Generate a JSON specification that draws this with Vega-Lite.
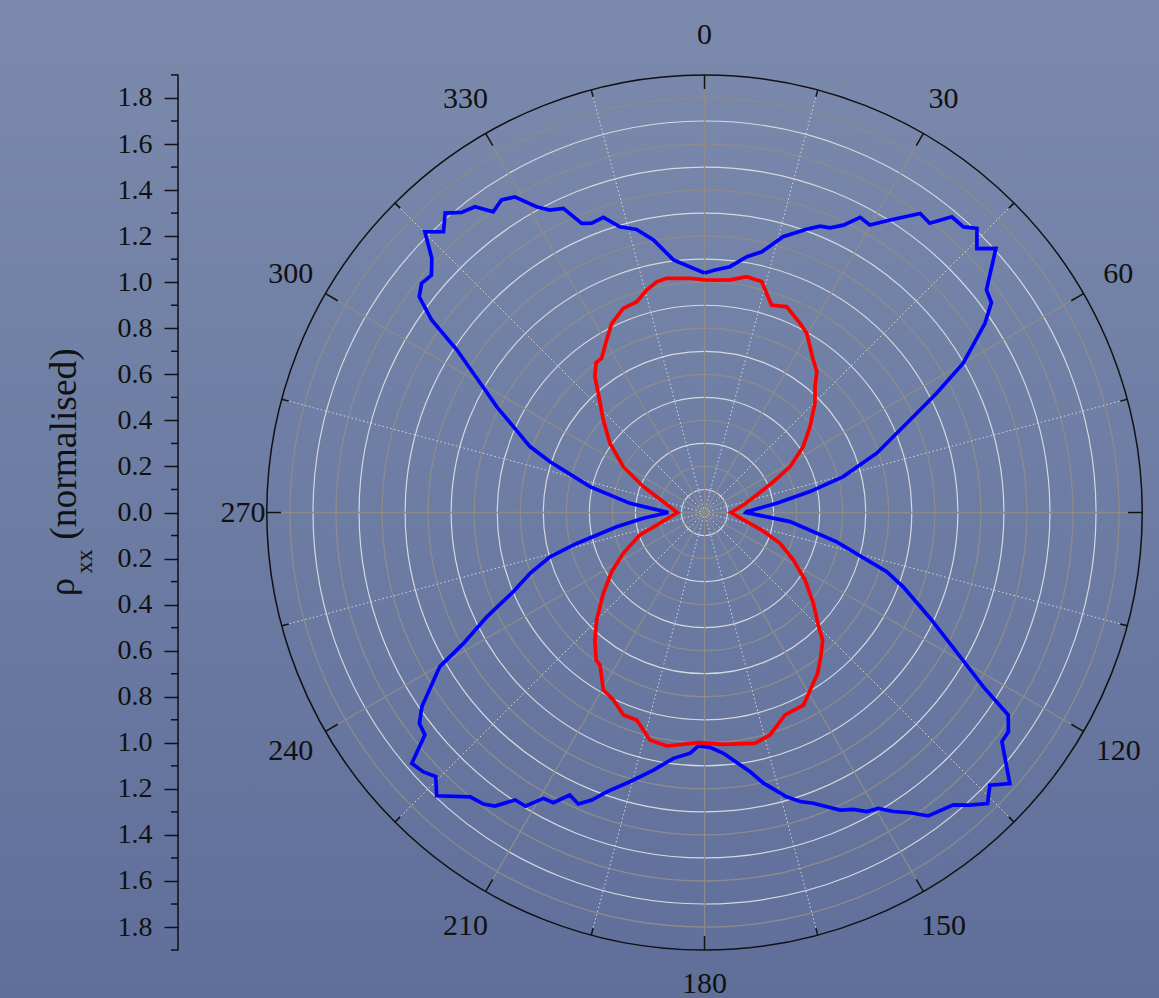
{
  "$schema": "https://vega.github.io/schema/vega-lite/v6.json",
  "width": 1159,
  "height": 998,
  "autosize": "none",
  "padding": 0,
  "background": "#6d7ca3",
  "config": {
    "view": {
      "stroke": null,
      "fill": {"gradient": "linear", "x1": 0, "y1": 0, "x2": 0, "y2": 1,
        "stops": [{"offset": 0, "color": "#7b8aac"}, {"offset": 1, "color": "#5f6f9a"}]}
    },
    "axisY": {"title": null, "domain": false, "grid": false, "tickSize": 14, "tickColor": "#111111", "tickWidth": 1.5,
      "labelFont": "Liberation Serif", "labelFontSize": 28, "labelColor": "#111111", "labelPadding": 12, "labelOverlap": false, "labelBound": false}
  },
  "datasets": {
    "curves": [
      {"series": "blue", "angle": 0, "r": 1.04}, {"series": "blue", "angle": 2.5, "r": 1.054}, {"series": "blue", "angle": 5.9, "r": 1.073}, {"series": "blue", "angle": 9.4, "r": 1.126}, {"series": "blue", "angle": 12.4, "r": 1.159}, {"series": "blue", "angle": 15.9, "r": 1.245}, {"series": "blue", "angle": 19.8, "r": 1.307}, {"series": "blue", "angle": 22.0, "r": 1.341}, {"series": "blue", "angle": 23.8, "r": 1.351}, {"series": "blue", "angle": 25.8, "r": 1.386}, {"series": "blue", "angle": 27.8, "r": 1.449}, {"series": "blue", "angle": 29.9, "r": 1.44}, {"series": "blue", "angle": 32.4, "r": 1.504}, {"series": "blue", "angle": 35.8, "r": 1.601}, {"series": "blue", "angle": 37.9, "r": 1.592}, {"series": "blue", "angle": 39.9, "r": 1.674}, {"series": "blue", "angle": 42.2, "r": 1.674}, {"series": "blue", "angle": 43.8, "r": 1.709}, {"series": "blue", "angle": 45.9, "r": 1.647}, {"series": "blue", "angle": 47.8, "r": 1.708}, {"series": "blue", "angle": 51.7, "r": 1.56}, {"series": "blue", "angle": 53.8, "r": 1.544}, {"series": "blue", "angle": 56.0, "r": 1.469}, {"series": "blue", "angle": 60.0, "r": 1.297}, {"series": "blue", "angle": 62.8, "r": 1.133}, {"series": "blue", "angle": 66.2, "r": 0.96}, {"series": "blue", "angle": 71.0, "r": 0.791}, {"series": "blue", "angle": 75.5, "r": 0.622}, {"series": "blue", "angle": 78.8, "r": 0.467}, {"series": "blue", "angle": 82.7, "r": 0.316}, {"series": "blue", "angle": 88.9, "r": 0.183}, {"series": "blue", "angle": 90, "r": 0.18}, {"series": "blue", "angle": 96.1, "r": 0.373}, {"series": "blue", "angle": 102.5, "r": 0.588}, {"series": "blue", "angle": 108.0, "r": 0.832}, {"series": "blue", "angle": 110.5, "r": 0.921}, {"series": "blue", "angle": 115.1, "r": 1.082}, {"series": "blue", "angle": 119.4, "r": 1.274}, {"series": "blue", "angle": 122.0, "r": 1.427}, {"series": "blue", "angle": 123.7, "r": 1.585}, {"series": "blue", "angle": 125.8, "r": 1.627}, {"series": "blue", "angle": 127.6, "r": 1.63}, {"series": "blue", "angle": 131.6, "r": 1.773}, {"series": "blue", "angle": 133.7, "r": 1.714}, {"series": "blue", "angle": 135.8, "r": 1.763}, {"series": "blue", "angle": 137.8, "r": 1.715}, {"series": "blue", "angle": 139.6, "r": 1.667}, {"series": "blue", "angle": 143.6, "r": 1.637}, {"series": "blue", "angle": 145.6, "r": 1.58}, {"series": "blue", "angle": 147.7, "r": 1.536}, {"series": "blue", "angle": 149.6, "r": 1.49}, {"series": "blue", "angle": 151.5, "r": 1.478}, {"series": "blue", "angle": 153.4, "r": 1.442}, {"series": "blue", "angle": 155.5, "r": 1.42}, {"series": "blue", "angle": 159.5, "r": 1.348}, {"series": "blue", "angle": 161.7, "r": 1.322}, {"series": "blue", "angle": 163.9, "r": 1.285}, {"series": "blue", "angle": 167.7, "r": 1.203}, {"series": "blue", "angle": 170.0, "r": 1.143}, {"series": "blue", "angle": 175.5, "r": 1.049}, {"series": "blue", "angle": 178.7, "r": 1.02}, {"series": "blue", "angle": 181.5, "r": 1.014}, {"series": "blue", "angle": 183.4, "r": 1.047}, {"series": "blue", "angle": 187.2, "r": 1.076}, {"series": "blue", "angle": 191.2, "r": 1.14}, {"series": "blue", "angle": 195.5, "r": 1.213}, {"series": "blue", "angle": 199.3, "r": 1.285}, {"series": "blue", "angle": 201.4, "r": 1.341}, {"series": "blue", "angle": 203.4, "r": 1.379}, {"series": "blue", "angle": 205.5, "r": 1.359}, {"series": "blue", "angle": 207.5, "r": 1.421}, {"series": "blue", "angle": 209.4, "r": 1.425}, {"series": "blue", "angle": 211.4, "r": 1.494}, {"series": "blue", "angle": 213.4, "r": 1.495}, {"series": "blue", "angle": 215.5, "r": 1.566}, {"series": "blue", "angle": 217.2, "r": 1.589}, {"series": "blue", "angle": 219.5, "r": 1.6}, {"series": "blue", "angle": 223.4, "r": 1.693}, {"series": "blue", "angle": 225.5, "r": 1.636}, {"series": "blue", "angle": 227.3, "r": 1.661}, {"series": "blue", "angle": 229.4, "r": 1.674}, {"series": "blue", "angle": 231.5, "r": 1.551}, {"series": "blue", "angle": 233.5, "r": 1.54}, {"series": "blue", "angle": 235.5, "r": 1.489}, {"series": "blue", "angle": 239.8, "r": 1.33}, {"series": "blue", "angle": 241.5, "r": 1.191}, {"series": "blue", "angle": 244.4, "r": 1.048}, {"series": "blue", "angle": 247.5, "r": 0.899}, {"series": "blue", "angle": 250.8, "r": 0.802}, {"series": "blue", "angle": 254.0, "r": 0.698}, {"series": "blue", "angle": 256.4, "r": 0.571}, {"series": "blue", "angle": 260.8, "r": 0.386}, {"series": "blue", "angle": 264.6, "r": 0.267}, {"series": "blue", "angle": 270, "r": 0.157}, {"series": "blue", "angle": 277.0, "r": 0.326}, {"series": "blue", "angle": 282.7, "r": 0.51}, {"series": "blue", "angle": 288.2, "r": 0.706}, {"series": "blue", "angle": 290.7, "r": 0.81}, {"series": "blue", "angle": 294.2, "r": 0.91}, {"series": "blue", "angle": 297.0, "r": 1.013}, {"series": "blue", "angle": 299.2, "r": 1.092}, {"series": "blue", "angle": 303.3, "r": 1.287}, {"series": "blue", "angle": 305.2, "r": 1.45}, {"series": "blue", "angle": 307.1, "r": 1.553}, {"series": "blue", "angle": 309.0, "r": 1.581}, {"series": "blue", "angle": 311.0, "r": 1.571}, {"series": "blue", "angle": 313.0, "r": 1.619}, {"series": "blue", "angle": 315.1, "r": 1.72}, {"series": "blue", "angle": 317.1, "r": 1.665}, {"series": "blue", "angle": 319.1, "r": 1.72}, {"series": "blue", "angle": 321.0, "r": 1.677}, {"series": "blue", "angle": 323.1, "r": 1.66}, {"series": "blue", "angle": 324.9, "r": 1.596}, {"series": "blue", "angle": 327.0, "r": 1.618}, {"series": "blue", "angle": 329.0, "r": 1.599}, {"series": "blue", "angle": 331.2, "r": 1.515}, {"series": "blue", "angle": 332.9, "r": 1.475}, {"series": "blue", "angle": 335.1, "r": 1.456}, {"series": "blue", "angle": 337.0, "r": 1.364}, {"series": "blue", "angle": 338.7, "r": 1.348}, {"series": "blue", "angle": 341.1, "r": 1.355}, {"series": "blue", "angle": 343.5, "r": 1.294}, {"series": "blue", "angle": 346.5, "r": 1.264}, {"series": "blue", "angle": 349.4, "r": 1.204}, {"series": "blue", "angle": 353.0, "r": 1.105}, {"series": "blue", "angle": 360, "r": 1.04},
      {"series": "red", "angle": 0, "r": 1.01}, {"series": "red", "angle": 2.6, "r": 1.01}, {"series": "red", "angle": 6.3, "r": 1.016}, {"series": "red", "angle": 10.1, "r": 1.04}, {"series": "red", "angle": 13.9, "r": 1.033}, {"series": "red", "angle": 17.9, "r": 0.947}, {"series": "red", "angle": 21.8, "r": 0.962}, {"series": "red", "angle": 26.8, "r": 0.92}, {"series": "red", "angle": 29.7, "r": 0.896}, {"series": "red", "angle": 35.5, "r": 0.813}, {"series": "red", "angle": 38.6, "r": 0.782}, {"series": "red", "angle": 41.3, "r": 0.727}, {"series": "red", "angle": 45.3, "r": 0.675}, {"series": "red", "angle": 50.9, "r": 0.59}, {"series": "red", "angle": 56.3, "r": 0.515}, {"series": "red", "angle": 61.8, "r": 0.421}, {"series": "red", "angle": 65.9, "r": 0.327}, {"series": "red", "angle": 71.5, "r": 0.239}, {"series": "red", "angle": 79.1, "r": 0.172}, {"series": "red", "angle": 90, "r": 0.115}, {"series": "red", "angle": 100.9, "r": 0.172}, {"series": "red", "angle": 107, "r": 0.26}, {"series": "red", "angle": 112.2, "r": 0.354}, {"series": "red", "angle": 118.1, "r": 0.437}, {"series": "red", "angle": 123.9, "r": 0.526}, {"series": "red", "angle": 129.8, "r": 0.615}, {"series": "red", "angle": 134.7, "r": 0.695}, {"series": "red", "angle": 137.2, "r": 0.755}, {"series": "red", "angle": 141.1, "r": 0.804}, {"series": "red", "angle": 144.9, "r": 0.854}, {"series": "red", "angle": 148.4, "r": 0.888}, {"series": "red", "angle": 152.8, "r": 0.94}, {"series": "red", "angle": 158.3, "r": 0.946}, {"series": "red", "angle": 163.6, "r": 1.007}, {"series": "red", "angle": 167.7, "r": 1.026}, {"series": "red", "angle": 175.4, "r": 1.01}, {"series": "red", "angle": 181.5, "r": 1.0}, {"series": "red", "angle": 189.2, "r": 1.027}, {"series": "red", "angle": 193.5, "r": 1.016}, {"series": "red", "angle": 195.7, "r": 0.981}, {"series": "red", "angle": 198.1, "r": 0.948}, {"series": "red", "angle": 201.8, "r": 0.947}, {"series": "red", "angle": 205.9, "r": 0.905}, {"series": "red", "angle": 209.7, "r": 0.887}, {"series": "red", "angle": 214.4, "r": 0.803}, {"series": "red", "angle": 216.3, "r": 0.795}, {"series": "red", "angle": 220.7, "r": 0.73}, {"series": "red", "angle": 225.1, "r": 0.661}, {"series": "red", "angle": 231.4, "r": 0.562}, {"series": "red", "angle": 237.5, "r": 0.478}, {"series": "red", "angle": 243.3, "r": 0.395}, {"series": "red", "angle": 250.8, "r": 0.297}, {"series": "red", "angle": 255.3, "r": 0.215}, {"series": "red", "angle": 270, "r": 0.118}, {"series": "red", "angle": 284.7, "r": 0.185}, {"series": "red", "angle": 292.9, "r": 0.288}, {"series": "red", "angle": 299.4, "r": 0.405}, {"series": "red", "angle": 306.2, "r": 0.509}, {"series": "red", "angle": 312.4, "r": 0.595}, {"series": "red", "angle": 318.3, "r": 0.693}, {"series": "red", "angle": 321.1, "r": 0.758}, {"series": "red", "angle": 324.1, "r": 0.803}, {"series": "red", "angle": 326.3, "r": 0.805}, {"series": "red", "angle": 330.4, "r": 0.861}, {"series": "red", "angle": 333.9, "r": 0.915}, {"series": "red", "angle": 338.3, "r": 0.954}, {"series": "red", "angle": 342.2, "r": 0.961}, {"series": "red", "angle": 345.4, "r": 0.998}, {"series": "red", "angle": 348.3, "r": 1.023}, {"series": "red", "angle": 350.8, "r": 1.03}, {"series": "red", "angle": 356.5, "r": 1.019}, {"series": "red", "angle": 360, "r": 1.01}
    ],
    "minorRings": [{"r": 0.1}, {"r": 0.3}, {"r": 0.5}, {"r": 0.7}, {"r": 0.9}, {"r": 1.1}, {"r": 1.3}, {"r": 1.5}, {"r": 1.7}],
    "majorRings": [{"r": 0.2}, {"r": 0.4}, {"r": 0.6}, {"r": 0.8}, {"r": 1.0}, {"r": 1.2}, {"r": 1.4}, {"r": 1.6}, {"r": 1.8}],
    "outerRing": [{"r": 1.9}],
    "majorAngles": [{"angle": 0}, {"angle": 30}, {"angle": 60}, {"angle": 90}, {"angle": 120}, {"angle": 150}, {"angle": 180}, {"angle": 210}, {"angle": 240}, {"angle": 270}, {"angle": 300}, {"angle": 330}],
    "minorAngles": [{"angle": 15}, {"angle": 45}, {"angle": 75}, {"angle": 105}, {"angle": 135}, {"angle": 165}, {"angle": 195}, {"angle": 225}, {"angle": 255}, {"angle": 285}, {"angle": 315}, {"angle": 345}],
    "minorTicks": [{"v": -1.9}, {"v": -1.7}, {"v": -1.5}, {"v": -1.3}, {"v": -1.1}, {"v": -0.9}, {"v": -0.7}, {"v": -0.5}, {"v": -0.3}, {"v": -0.1}, {"v": 0.1}, {"v": 0.3}, {"v": 0.5}, {"v": 0.7}, {"v": 0.9}, {"v": 1.1}, {"v": 1.3}, {"v": 1.5}, {"v": 1.7}, {"v": 1.9}],
    "titleParts": [{"t": "(normalised)", "part": "main"}, {"t": "ρ", "part": "rho"}, {"t": "xx", "part": "sub"}]
  },
  "layer": [
    {"data": {"name": "minorRings"}, "transform": [{"calculate": "0", "as": "cx"}, {"calculate": "0", "as": "cy"}],
      "mark": {"type": "arc", "filled": false, "fill": null, "stroke": "#d6d8de", "strokeWidth": 1.2},
      "encoding": {
        "x": {"field": "cx", "type": "quantitative", "scale": {"domain": [-3.0591, 1.9735], "nice": false, "zero": false}, "axis": null},
        "y": {"field": "cy", "type": "quantitative", "scale": {"domain": [-2.1081, 2.2254], "nice": false, "zero": false}, "axis": {"values": [-1.8, -1.6, -1.4, -1.2, -1.0, -0.8, -0.6, -0.4, -0.2, 0, 0.2, 0.4, 0.6, 0.8, 1.0, 1.2, 1.4, 1.6, 1.8], "labelExpr": "format(abs(datum.value), '.1f')", "title": null, "offset": -178}},
        "radius": {"field": "r", "type": "quantitative", "stack": null, "scale": {"type": "linear", "domain": [0, 1.9], "range": [0, 437.57], "zero": true, "nice": false}}}},
    {"data": {"name": "majorRings"}, "transform": [{"calculate": "0", "as": "cx"}, {"calculate": "0", "as": "cy"}],
      "mark": {"type": "arc", "filled": false, "fill": null, "stroke": "#8c8c8c", "strokeWidth": 1.3},
      "encoding": {
        "x": {"field": "cx", "type": "quantitative", "scale": {"domain": [-3.0591, 1.9735], "nice": false, "zero": false}, "axis": null},
        "y": {"field": "cy", "type": "quantitative", "scale": {"domain": [-2.1081, 2.2254], "nice": false, "zero": false}, "axis": {"values": [-1.8, -1.6, -1.4, -1.2, -1.0, -0.8, -0.6, -0.4, -0.2, 0, 0.2, 0.4, 0.6, 0.8, 1.0, 1.2, 1.4, 1.6, 1.8], "labelExpr": "format(abs(datum.value), '.1f')", "title": null, "offset": -178}},
        "radius": {"field": "r", "type": "quantitative", "stack": null, "scale": {"type": "linear", "domain": [0, 1.9], "range": [0, 437.57], "zero": true, "nice": false}}}},
    {"data": {"name": "minorAngles"},
      "transform": [{"calculate": "0", "as": "cx"}, {"calculate": "0", "as": "cy"}, {"calculate": "1.9*sin(datum.angle*PI/180)", "as": "ex"}, {"calculate": "1.9*cos(datum.angle*PI/180)", "as": "ey"}],
      "mark": {"type": "rule", "color": "#d6d8de", "strokeWidth": 1, "strokeDash": [1.5, 2.5]},
      "encoding": {
        "x": {"field": "cx", "type": "quantitative", "scale": {"domain": [-3.0591, 1.9735], "nice": false, "zero": false}, "axis": null},
        "y": {"field": "cy", "type": "quantitative", "scale": {"domain": [-2.1081, 2.2254], "nice": false, "zero": false}, "axis": {"values": [-1.8, -1.6, -1.4, -1.2, -1.0, -0.8, -0.6, -0.4, -0.2, 0, 0.2, 0.4, 0.6, 0.8, 1.0, 1.2, 1.4, 1.6, 1.8], "labelExpr": "format(abs(datum.value), '.1f')", "title": null, "offset": -178}},
        "x2": {"field": "ex"}, "y2": {"field": "ey"}}},
    {"data": {"name": "majorAngles"},
      "transform": [{"calculate": "0", "as": "cx"}, {"calculate": "0", "as": "cy"}, {"calculate": "1.9*sin(datum.angle*PI/180)", "as": "ex"}, {"calculate": "1.9*cos(datum.angle*PI/180)", "as": "ey"}],
      "mark": {"type": "rule", "color": "#8c8c8c", "strokeWidth": 1.3},
      "encoding": {
        "x": {"field": "cx", "type": "quantitative", "scale": {"domain": [-3.0591, 1.9735], "nice": false, "zero": false}, "axis": null},
        "y": {"field": "cy", "type": "quantitative", "scale": {"domain": [-2.1081, 2.2254], "nice": false, "zero": false}, "axis": {"values": [-1.8, -1.6, -1.4, -1.2, -1.0, -0.8, -0.6, -0.4, -0.2, 0, 0.2, 0.4, 0.6, 0.8, 1.0, 1.2, 1.4, 1.6, 1.8], "labelExpr": "format(abs(datum.value), '.1f')", "title": null, "offset": -178}},
        "x2": {"field": "ex"}, "y2": {"field": "ey"}}},
    {"data": {"name": "outerRing"}, "transform": [{"calculate": "0", "as": "cx"}, {"calculate": "0", "as": "cy"}],
      "mark": {"type": "arc", "filled": false, "fill": null, "stroke": "#111111", "strokeWidth": 1.5},
      "encoding": {
        "x": {"field": "cx", "type": "quantitative", "scale": {"domain": [-3.0591, 1.9735], "nice": false, "zero": false}, "axis": null},
        "y": {"field": "cy", "type": "quantitative", "scale": {"domain": [-2.1081, 2.2254], "nice": false, "zero": false}, "axis": {"values": [-1.8, -1.6, -1.4, -1.2, -1.0, -0.8, -0.6, -0.4, -0.2, 0, 0.2, 0.4, 0.6, 0.8, 1.0, 1.2, 1.4, 1.6, 1.8], "labelExpr": "format(abs(datum.value), '.1f')", "title": null, "offset": -178}},
        "radius": {"field": "r", "type": "quantitative", "stack": null, "scale": {"type": "linear", "domain": [0, 1.9], "range": [0, 437.57], "zero": true, "nice": false}}}},
    {"data": {"name": "majorAngles"},
      "transform": [{"calculate": "1.9*sin(datum.angle*PI/180)", "as": "px"}, {"calculate": "1.9*cos(datum.angle*PI/180)", "as": "py"},
        {"calculate": "1.839*sin(datum.angle*PI/180)", "as": "ex"}, {"calculate": "1.839*cos(datum.angle*PI/180)", "as": "ey"}],
      "mark": {"type": "rule", "color": "#111111", "strokeWidth": 1.5},
      "encoding": {
        "x": {"field": "px", "type": "quantitative", "scale": {"domain": [-3.0591, 1.9735], "nice": false, "zero": false}, "axis": null},
        "y": {"field": "py", "type": "quantitative", "scale": {"domain": [-2.1081, 2.2254], "nice": false, "zero": false}, "axis": {"values": [-1.8, -1.6, -1.4, -1.2, -1.0, -0.8, -0.6, -0.4, -0.2, 0, 0.2, 0.4, 0.6, 0.8, 1.0, 1.2, 1.4, 1.6, 1.8], "labelExpr": "format(abs(datum.value), '.1f')", "title": null, "offset": -178}},
        "x2": {"field": "ex"}, "y2": {"field": "ey"}}},
    {"data": {"name": "minorAngles"},
      "transform": [{"calculate": "1.9*sin(datum.angle*PI/180)", "as": "px"}, {"calculate": "1.9*cos(datum.angle*PI/180)", "as": "py"},
        {"calculate": "1.869*sin(datum.angle*PI/180)", "as": "ex"}, {"calculate": "1.869*cos(datum.angle*PI/180)", "as": "ey"}],
      "mark": {"type": "rule", "color": "#111111", "strokeWidth": 1.5},
      "encoding": {
        "x": {"field": "px", "type": "quantitative", "scale": {"domain": [-3.0591, 1.9735], "nice": false, "zero": false}, "axis": null},
        "y": {"field": "py", "type": "quantitative", "scale": {"domain": [-2.1081, 2.2254], "nice": false, "zero": false}, "axis": {"values": [-1.8, -1.6, -1.4, -1.2, -1.0, -0.8, -0.6, -0.4, -0.2, 0, 0.2, 0.4, 0.6, 0.8, 1.0, 1.2, 1.4, 1.6, 1.8], "labelExpr": "format(abs(datum.value), '.1f')", "title": null, "offset": -178}},
        "x2": {"field": "ex"}, "y2": {"field": "ey"}}},
    {"data": {"name": "curves"},
      "transform": [{"filter": "datum.series === 'blue'"}, {"calculate": "datum.r*sin(datum.angle*PI/180)", "as": "px"}, {"calculate": "datum.r*cos(datum.angle*PI/180)", "as": "py"}],
      "mark": {"type": "line", "color": "#0000ff", "strokeWidth": 3.7, "strokeJoin": "miter"},
      "encoding": {
        "x": {"field": "px", "type": "quantitative", "scale": {"domain": [-3.0591, 1.9735], "nice": false, "zero": false}, "axis": null},
        "y": {"field": "py", "type": "quantitative", "scale": {"domain": [-2.1081, 2.2254], "nice": false, "zero": false}, "axis": {"values": [-1.8, -1.6, -1.4, -1.2, -1.0, -0.8, -0.6, -0.4, -0.2, 0, 0.2, 0.4, 0.6, 0.8, 1.0, 1.2, 1.4, 1.6, 1.8], "labelExpr": "format(abs(datum.value), '.1f')", "title": null, "offset": -178}},
        "order": {"field": "angle", "type": "quantitative"}}},
    {"data": {"name": "curves"},
      "transform": [{"filter": "datum.series === 'red'"}, {"calculate": "datum.r*sin(datum.angle*PI/180)", "as": "px"}, {"calculate": "datum.r*cos(datum.angle*PI/180)", "as": "py"}],
      "mark": {"type": "line", "color": "#ff0000", "strokeWidth": 3.7, "strokeJoin": "miter"},
      "encoding": {
        "x": {"field": "px", "type": "quantitative", "scale": {"domain": [-3.0591, 1.9735], "nice": false, "zero": false}, "axis": null},
        "y": {"field": "py", "type": "quantitative", "scale": {"domain": [-2.1081, 2.2254], "nice": false, "zero": false}, "axis": {"values": [-1.8, -1.6, -1.4, -1.2, -1.0, -0.8, -0.6, -0.4, -0.2, 0, 0.2, 0.4, 0.6, 0.8, 1.0, 1.2, 1.4, 1.6, 1.8], "labelExpr": "format(abs(datum.value), '.1f')", "title": null, "offset": -178}},
        "order": {"field": "angle", "type": "quantitative"}}},
    {"data": {"name": "majorAngles"},
      "transform": [{"filter": "datum.angle !== 90"},
        {"calculate": "datum.angle === 270 ? 2.004 : (datum.angle === 180 ? 2.047 : 2.075)", "as": "lr"},
        {"calculate": "datum.lr*sin(datum.angle*PI/180)", "as": "px"}, {"calculate": "datum.lr*cos(datum.angle*PI/180)", "as": "py"}],
      "mark": {"type": "text", "font": "Liberation Serif", "fontSize": 30, "color": "#111111", "align": "center", "baseline": "middle"},
      "encoding": {
        "x": {"field": "px", "type": "quantitative", "scale": {"domain": [-3.0591, 1.9735], "nice": false, "zero": false}, "axis": null},
        "y": {"field": "py", "type": "quantitative", "scale": {"domain": [-2.1081, 2.2254], "nice": false, "zero": false}, "axis": {"values": [-1.8, -1.6, -1.4, -1.2, -1.0, -0.8, -0.6, -0.4, -0.2, 0, 0.2, 0.4, 0.6, 0.8, 1.0, 1.2, 1.4, 1.6, 1.8], "labelExpr": "format(abs(datum.value), '.1f')", "title": null, "offset": -178}},
        "text": {"field": "angle", "type": "nominal"}}},
    {"data": {"name": "minorTicks"},
      "transform": [{"calculate": "-2.2862", "as": "ax"}, {"calculate": "-2.3166", "as": "ax2"}],
      "mark": {"type": "rule", "color": "#111111", "strokeWidth": 1.5},
      "encoding": {
        "x": {"field": "ax", "type": "quantitative", "scale": {"domain": [-3.0591, 1.9735], "nice": false, "zero": false}, "axis": null},
        "x2": {"field": "ax2"},
        "y": {"field": "v", "type": "quantitative", "scale": {"domain": [-2.1081, 2.2254], "nice": false, "zero": false}, "axis": {"values": [-1.8, -1.6, -1.4, -1.2, -1.0, -0.8, -0.6, -0.4, -0.2, 0, 0.2, 0.4, 0.6, 0.8, 1.0, 1.2, 1.4, 1.6, 1.8], "labelExpr": "format(abs(datum.value), '.1f')", "title": null, "offset": -178}}}},
    {"data": {"values": [{"k": 1}]},
      "transform": [{"calculate": "-2.2862", "as": "ax"}, {"calculate": "-1.902", "as": "ay"}, {"calculate": "1.902", "as": "ay2"}],
      "mark": {"type": "rule", "color": "#111111", "strokeWidth": 1.5},
      "encoding": {
        "x": {"field": "ax", "type": "quantitative", "scale": {"domain": [-3.0591, 1.9735], "nice": false, "zero": false}, "axis": null},
        "y": {"field": "ay", "type": "quantitative", "scale": {"domain": [-2.1081, 2.2254], "nice": false, "zero": false}, "axis": {"values": [-1.8, -1.6, -1.4, -1.2, -1.0, -0.8, -0.6, -0.4, -0.2, 0, 0.2, 0.4, 0.6, 0.8, 1.0, 1.2, 1.4, 1.6, 1.8], "labelExpr": "format(abs(datum.value), '.1f')", "title": null, "offset": -178}},
        "y2": {"field": "ay2"}}},
    {"data": {"name": "titleParts"},
      "transform": [
        {"calculate": "datum.part === 'main' ? -2.729 : datum.part === 'rho' ? -2.7377 : -2.6596", "as": "tx"},
        {"calculate": "datum.part === 'main' ? 0.2974 : datum.part === 'rho' ? -0.3235 : -0.2128", "as": "ty"},
        {"calculate": "datum.part === 'sub' ? 24 : (datum.part === 'main' ? 37.5 : 36)", "as": "fs"}],
      "mark": {"type": "text", "font": "Liberation Serif", "color": "#111111", "align": "center", "baseline": "alphabetic", "angle": 270},
      "encoding": {
        "x": {"field": "tx", "type": "quantitative", "scale": {"domain": [-3.0591, 1.9735], "nice": false, "zero": false}, "axis": null},
        "y": {"field": "ty", "type": "quantitative", "scale": {"domain": [-2.1081, 2.2254], "nice": false, "zero": false}, "axis": {"values": [-1.8, -1.6, -1.4, -1.2, -1.0, -0.8, -0.6, -0.4, -0.2, 0, 0.2, 0.4, 0.6, 0.8, 1.0, 1.2, 1.4, 1.6, 1.8], "labelExpr": "format(abs(datum.value), '.1f')", "title": null, "offset": -178}},
        "size": {"field": "fs", "type": "quantitative", "scale": null},
        "text": {"field": "t"}}}
  ]
}
